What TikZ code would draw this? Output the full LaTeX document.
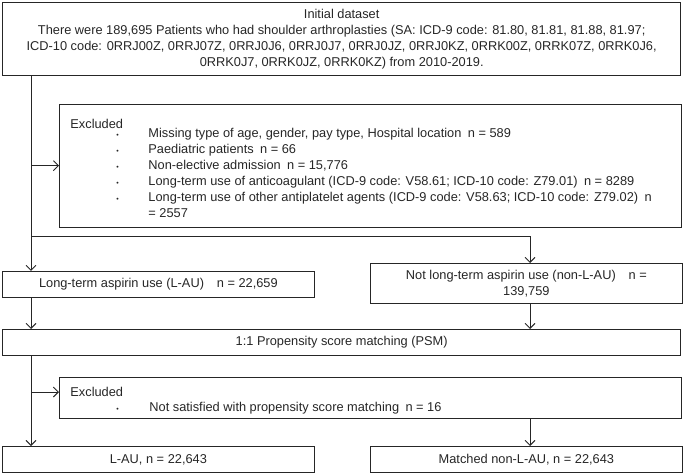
\documentclass[tikz,border=0pt]{standalone}
\usepackage{fontspec}
\setmainfont{Liberation Sans}
\usetikzlibrary{arrows.meta}

\begin{document}
\begin{tikzpicture}[x=1bp,y=1bp,line width=0.9bp,color=black!85,
  >={Straight Barb[length=5bp,width=10bp]},
  box/.style={draw,rectangle,inner sep=0pt,anchor=north west,align=center,font=\fontsize{12.8bp}{16bp}\selectfont},
  txt/.style={inner sep=0pt,align=left,font=\fontsize{12.8bp}{16bp}\selectfont}]

\useasboundingbox (0,0) rectangle (685,-473);

\node[box,minimum width=681,minimum height=73] (init) at (2,-2) {Initial dataset\\There were 189,695 Patients who had shoulder arthroplasties (SA: ICD-9 code: 81.80, 81.81, 81.88, 81.97;\\ICD-10 code: 0RRJ00Z, 0RRJ07Z, 0RRJ0J6, 0RRJ0J7, 0RRJ0JZ, 0RRJ0KZ, 0RRK00Z, 0RRK07Z, 0RRK0J6,\\0RRK0J7, 0RRK0JZ, 0RRK0KZ) from 2010-2019.};

\node[box,minimum width=624,minimum height=123] (excl1) at (59,-104) {};
\node[txt,anchor=west] (excl1hd) at (70,-124) {Excluded};
\node[txt,anchor=north west] (excl1list) at (116,-126) {\renewcommand{\arraystretch}{1.0}%
\begin{tabular}{@{}p{32bp}@{}l@{}}
{\fontsize{7bp}{7bp}\selectfont\textbullet} & Missing type of age, gender, pay type, Hospital location\enspace n = 589\\
{\fontsize{7bp}{7bp}\selectfont\textbullet} & Paediatric patients\enspace n = 66\\
{\fontsize{7bp}{7bp}\selectfont\textbullet} & Non-elective admission\enspace n = 15,776\\
{\fontsize{7bp}{7bp}\selectfont\textbullet} & Long-term use of anticoagulant (ICD-9 code: V58.61; ICD-10 code: Z79.01)\enspace n = 8289\\
{\fontsize{7bp}{7bp}\selectfont\textbullet} & Long-term use of other antiplatelet agents (ICD-9 code: V58.63; ICD-10 code: Z79.02)\enspace n\\
 & {=} 2557
\end{tabular}};

\node[box,minimum width=313,minimum height=26] (lau) at (2,-271) {Long-term aspirin use (L-AU)\quad n = 22,659};
\node[box,minimum width=313,minimum height=40] (nonlau) at (370,-263) {Not long-term aspirin use (non-L-AU)\quad n =\\139,759};

\node[box,minimum width=681,minimum height=26] (psm) at (2,-329) {1:1 Propensity score matching (PSM)};

\node[box,minimum width=624,minimum height=41] (excl2) at (59,-377) {};
\node[txt,anchor=west] (excl2hd) at (70,-392) {Excluded};
\node[txt,anchor=west] (excl2list) at (116,-408.5) {\begin{tabular}{@{}p{33bp}@{}l@{}}
{\fontsize{7bp}{7bp}\selectfont\textbullet} & Not satisfied with propensity score matching\enspace n = 16
\end{tabular}};

\node[box,minimum width=313,minimum height=26] (laufin) at (2,-446) {L-AU, n = 22,643};
\node[box,minimum width=313,minimum height=26] (nonlaufin) at (370,-446) {Matched non-L-AU, n = 22,643};

\coordinate (trunk) at (31,0);
\coordinate (branch) at (530,-236);

\draw[->] (init.south -| trunk) -- (lau.north -| trunk);
\draw[->] (trunk |- excl1.west) -- (excl1.west);
\draw[->] (branch -| trunk) -- (branch) -- (nonlau.north -| branch);
\draw[->] (lau.south -| trunk) -- (psm.north -| trunk);
\draw[->] (nonlau.south -| branch) -- (psm.north -| branch);
\draw[->] (psm.south -| trunk) -- (laufin.north -| trunk);
\draw[->] (trunk |- excl2hd) -- (excl2.west |- excl2hd);
\draw[->] (excl2.south -| branch) -- (nonlaufin.north -| branch);
\end{tikzpicture}
\end{document}
